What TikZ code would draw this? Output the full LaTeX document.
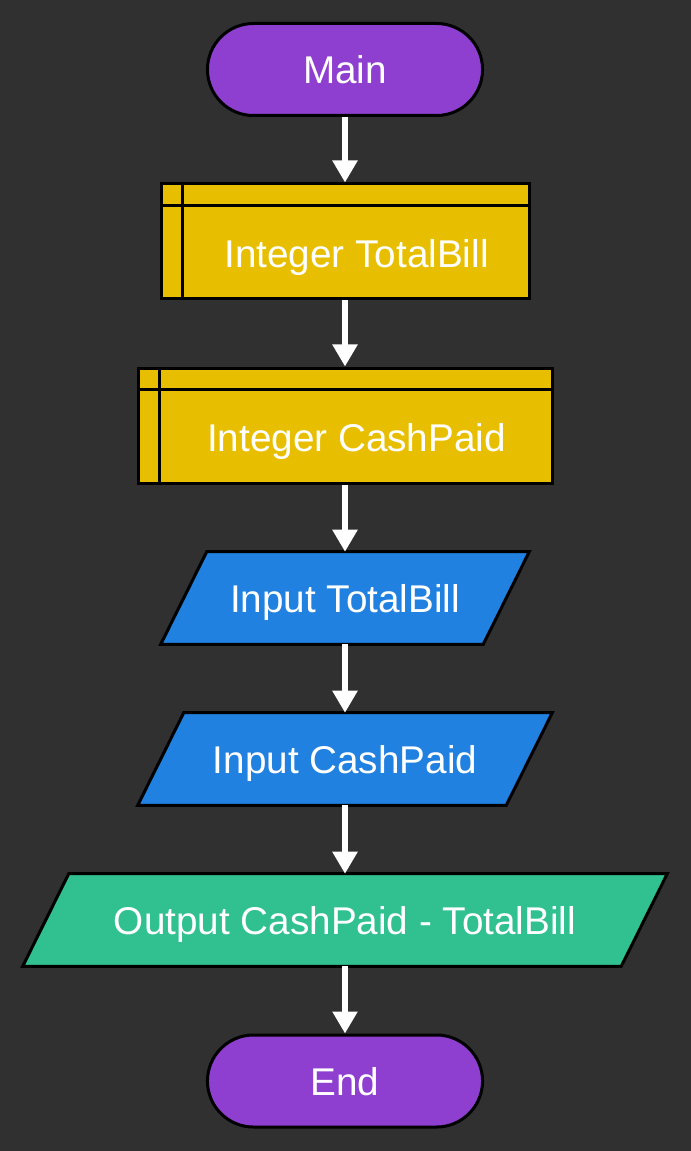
\documentclass[tikz,border=0pt]{standalone}
\usepackage{fontspec}
\setmainfont{Liberation Sans}
\usetikzlibrary{shapes.misc,arrows.meta,backgrounds}
\definecolor{cbg}{HTML}{303030}
\definecolor{cterm}{HTML}{8E3FD0}
\definecolor{cdecl}{HTML}{E8BF00}
\definecolor{cinp}{HTML}{2181E0}
\definecolor{coutp}{HTML}{31C190}
\newlength\px
\setlength\px{0.75pt}
\begin{document}
\begin{tikzpicture}[x=\px,y=-\px,
  every node/.style={font=\fontsize{29}{35}\selectfont,text=white,text height=21.5pt,text depth=0pt},
  terminal/.style={rounded rectangle,draw=black,line width=2.25pt,fill=cterm,minimum width=284\px,minimum height=92\px},
  declbox/.style={rectangle,draw=black,line width=2.25pt,fill=cdecl,minimum height=115\px},
  iobox/.style={rectangle,minimum height=92\px,inner sep=0pt},
  slant/.style={draw=black,line width=2.25pt,line join=miter},
  flow/.style={draw=white,line width=4pt,-{Triangle[width=18pt,length=16.5pt]}}]
\begin{scope}[on background layer]
\fill[cbg](0,0) rectangle (691,1151);
\end{scope}
\useasboundingbox (0,0) rectangle (691,1151);
\node[terminal] (main) at (345,69.5) {Main};
\node[declbox,minimum width=368\px,label={[xshift=11.5\px,yshift=-11.5\px]center:Integer TotalBill}] (tb) at (345,241.5) {};
\draw[line width=2.25pt] ([xshift=23\px]tb.north west) -- ([xshift=23\px]tb.south west);
\draw[line width=2.25pt] ([yshift=-23\px]tb.north west) -- ([yshift=-23\px]tb.north east);
\node[declbox,minimum width=414\px,label={[xshift=11.5\px,yshift=-11.5\px]center:Integer CashPaid}] (cp) at (345,425.5) {};
\draw[line width=2.25pt] ([xshift=23\px]cp.north west) -- ([xshift=23\px]cp.south west);
\draw[line width=2.25pt] ([yshift=-23\px]cp.north west) -- ([yshift=-23\px]cp.north east);
\node[iobox,minimum width=322\px] (intb) at (345,598) {Input TotalBill};
\node[iobox,minimum width=368\px] (incp) at (345,759) {Input CashPaid};
\node[iobox,minimum width=598\px] (outd) at (345,920) {Output CashPaid - TotalBill};
\node[terminal] (stop) at (345,1081) {End};
\begin{scope}[on background layer]
\foreach \n/\c in {intb/cinp,incp/cinp,outd/coutp}
  \filldraw[slant,fill=\c] ([xshift=23\px]\n.north west) -- ([xshift=23\px]\n.north east)
    -- ([xshift=-23\px]\n.south east) -- ([xshift=-23\px]\n.south west) -- cycle;
\end{scope}
\draw[flow] (main.south) -- (tb.north);
\draw[flow] (tb.south) -- (cp.north);
\draw[flow] (cp.south) -- (intb.north);
\draw[flow] (intb.south) -- (incp.north);
\draw[flow] (incp.south) -- (outd.north);
\draw[flow] (outd.south) -- (stop.north);
\end{tikzpicture}
\end{document}
